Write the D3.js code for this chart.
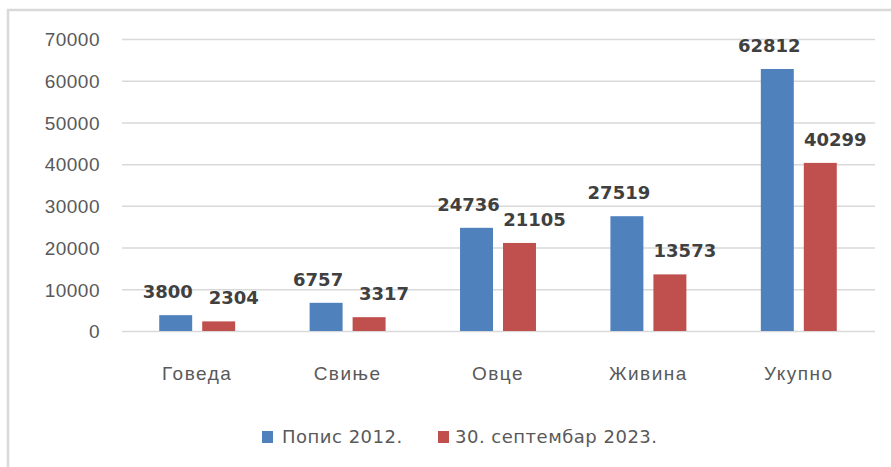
<!DOCTYPE html>
<html>
<head>
<meta charset="utf-8">
<script src="https://cdn.jsdelivr.net/npm/d3@7"></script>
<style>
  body { margin: 0; background: #fff; }
  svg { display: block; font-family: "DejaVu Sans", sans-serif; }
</style>
</head>
<body>
<svg id="chart" width="891" height="467"></svg>
<script>
const categories = ['Говеда', 'Свиње', 'Овце', 'Живина', 'Укупно']
const seriesNames = ['Попис 2012.', '30. септембар 2023.']
const popis2012 = [3800, 6757, 24736, 27519, 62812]
const sept2023 = [2304, 3317, 21105, 13573, 40299]
const yTicks = [0, 10000, 20000, 30000, 40000, 50000, 60000, 70000]
const colors = ['#4f81bd', '#c0504d']

const svg = d3.select('#chart')

// outer chart frame (only top/left visible)
svg.append('rect')
  .attr('x', 8).attr('y', 10)
  .attr('width', 950).attr('height', 520)
  .attr('fill', 'none')
  .attr('stroke', '#d9d9d9')
  .attr('stroke-width', 2.5)

const plot = { left: 122, right: 874, top: 39, bottom: 331 }

const y = d3.scaleLinear().domain([0, 70000]).range([plot.bottom, plot.top])
const x0 = d3.scaleBand().domain(categories)
  .range([plot.left, plot.right])
  .paddingInner(0.495).paddingOuter(0.2475)
const x1 = d3.scaleBand().domain(seriesNames)
  .range([0, x0.bandwidth()])
  .paddingInner(0.233)

// gridlines + y labels
const yAxis = d3.axisLeft(y)
  .tickValues(yTicks)
  .tickSize(-(plot.right - plot.left + 1))
  .tickPadding(22)
  .tickFormat(d3.format('d'))

const gy = svg.append('g')
  .attr('transform', `translate(${plot.left},0)`)
  .call(yAxis)
gy.select('.domain').remove()
gy.selectAll('.tick line').attr('stroke', '#d9d9d9').attr('stroke-width', 1.5)
gy.selectAll('.tick text')
  .attr('fill', '#595959')
  .style('font-size', '19px')
  .style('letter-spacing', '0.5px')
  .attr('dy', '0.36em')

const rows = categories.map((c, i) => ({ cat: c, vals: [popis2012[i], sept2023[i]] }))

const groups = svg.append('g').selectAll('g')
  .data(rows)
  .join('g')
  .attr('transform', d => `translate(${x0(d.cat)},0)`)

groups.selectAll('rect')
  .data(d => d.vals.map((v, k) => ({ s: seriesNames[k], v, k })))
  .join('rect')
  .attr('x', d => x1(d.s))
  .attr('y', d => y(d.v))
  .attr('width', x1.bandwidth())
  .attr('height', d => y(0) - y(d.v))
  .attr('fill', d => colors[d.k])

// value labels, nudged apart like the original
groups.selectAll('text.val')
  .data(d => d.vals.map((v, k) => ({ s: seriesNames[k], v, k })))
  .join('text')
  .attr('class', 'val')
  .attr('x', d => x1(d.s) + x1.bandwidth() / 2 + (d.k === 0 ? -8 : 15))
  .attr('y', d => y(d.v) - 17)
  .attr('text-anchor', 'middle')
  .attr('fill', '#404040')
  .style('font-size', '18px')
  .style('font-weight', 'bold')
  .text(d => d.v)

// category labels
const xAxis = d3.axisBottom(x0).tickSize(0).tickPadding(36)
const gx = svg.append('g')
  .attr('transform', `translate(0,${plot.bottom})`)
  .call(xAxis)
gx.select('.domain').remove()
gx.selectAll('.tick text')
  .attr('fill', '#595959')
  .style('font-size', '19px')
  .style('letter-spacing', '1.5px')

// legend
const legendX = [262, 438]
const legend = svg.append('g').selectAll('g')
  .data(seriesNames)
  .join('g')
  .attr('transform', (d, i) => `translate(${legendX[i]},431)`)
legend.append('rect')
  .attr('width', 11).attr('height', 12)
  .attr('fill', (d, i) => colors[i])
legend.append('text')
  .attr('x', (d, i) => i === 0 ? 20 : 17)
  .attr('y', 12)
  .attr('fill', '#595959')
  .style('font-size', '18px')
  .style('letter-spacing', '0.5px')
  .text(d => d)
</script>
</body>
</html>
